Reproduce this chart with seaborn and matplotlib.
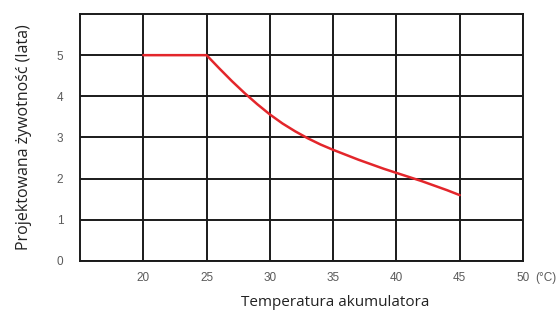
import matplotlib
matplotlib.use("Agg")
import matplotlib.pyplot as plt
import seaborn as sns
import pandas as pd

temps = [20, 25, 26, 27, 28, 29, 30, 31, 32, 33, 34, 35, 36, 37, 38, 39, 40, 41, 42, 43, 44, 45]
life = [5.0, 5.0, 4.68, 4.37, 4.08, 3.81, 3.56, 3.34, 3.15, 2.98, 2.83, 2.70, 2.58, 2.46, 2.35, 2.24, 2.14, 2.04, 1.94, 1.83, 1.72, 1.6]
x_ticks = [20, 25, 30, 35, 40, 45, 50]
y_ticks = [0, 1, 2, 3, 4, 5]

sns.set_style("white")
plt.rcParams['font.family'] = ['Open Sans', 'DejaVu Sans']

df = pd.DataFrame({"temp": temps, "life": life})

fig = plt.figure(figsize=(5.59, 3.11), dpi=100)
ax = fig.add_axes([0.1431, 0.1608, 0.7925, 0.7942])

sns.lineplot(data=df, x="temp", y="life", color="#e3262b", linewidth=1.8, ax=ax, zorder=3)

ax.set_xlim(15, 50)
ax.set_ylim(0, 6)
ax.set_xticks(x_ticks)
ax.set_yticks(y_ticks)
ax.set_xticklabels([str(v) for v in x_ticks], fontsize=8.5, color="#5a5a5a", family="Liberation Sans")
ax.set_yticklabels([str(v) for v in y_ticks], fontsize=8.5, color="#5a5a5a", family="Liberation Sans")
ax.tick_params(axis="both", length=0)
ax.tick_params(axis="x", pad=8)
ax.tick_params(axis="y", pad=12)

ax.grid(True, color="#1a1a1a", linewidth=1.4)
for s in ax.spines.values():
    s.set_color("#1a1a1a")
    s.set_linewidth(1.4)
    s.set_visible(True)

ax.set_xlabel("")
ax.set_ylabel("Projektowana żywotność (lata)", fontsize=11.5, color="#222222", labelpad=18)

fig.text(335 / 559, 1 - 302 / 311, "Temperatura akumulatora", fontsize=11, color="#222222",
         ha="center", va="center")

ax.text(1.027, -0.046, "(°C)", transform=ax.transAxes, fontsize=8.5, color="#5a5a5a",
        family="Liberation Sans", ha="left", va="top")

fig.savefig("out.png", dpi=100)
